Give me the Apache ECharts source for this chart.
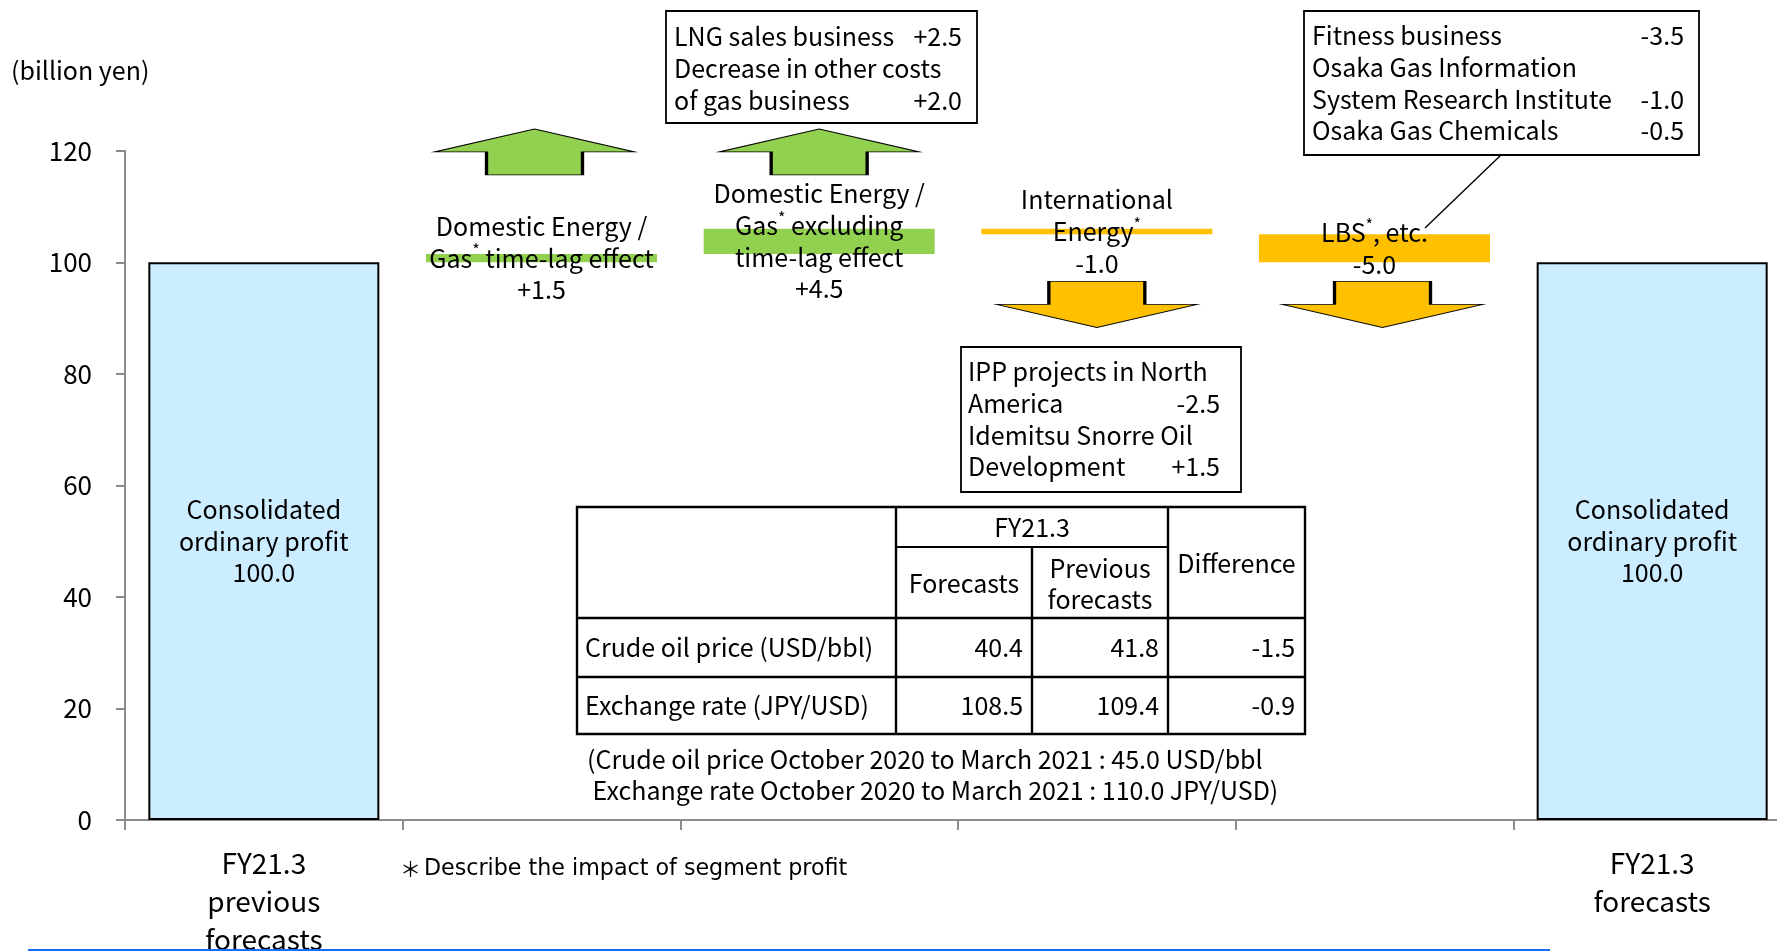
<!DOCTYPE html>
<html><head><meta charset="utf-8">
<script src="https://cdn.jsdelivr.net/npm/echarts@6/dist/echarts.min.js"></script>
<style>html,body{margin:0;padding:0;background:#fff;overflow:hidden}#c{width:1777px;height:951px}</style>
</head><body><div id="c"></div>
<script>
// ---------- data ----------
const categories = ['FY21.3\nprevious\nforecasts', 'Domestic Energy / Gas time-lag effect', 'Domestic Energy / Gas excluding time-lag effect', 'International Energy', 'LBS, etc.', 'FY21.3\nforecasts'];
const startTotal = 100.0;
const deltas = [1.5, 4.5, -1.0, -5.0];
const endTotal = 100.0;
const stepLabels = ['Domestic Energy /\nGas{sup|*} time-lag effect', 'Domestic Energy /\nGas{sup|*} excluding\ntime-lag effect', 'International\nEnergy{sup|*}', 'LBS{sup|*}, etc.'];
const totalLabel = 'Consolidated\nordinary profit';
const yMin = 0, yMax = 120, yInterval = 20;
const boxLNG = { left: ['LNG sales business', 'Decrease in other costs', 'of gas business'], right: ['+2.5', '', '+2.0'] };
const boxLBS = { left: ['Fitness business', 'Osaka Gas Information', 'System Research Institute', 'Osaka Gas Chemicals'], right: ['-3.5', '', '-1.0', '-0.5'] };
const boxIntl = { left: ['IPP projects in North', 'America', 'Idemitsu Snorre Oil', 'Development'], right: ['', '-2.5', '', '+1.5'] };
const tableHead = ['FY21.3', 'Forecasts', 'Previous\nforecasts', 'Difference'];
const tableRowNames = ['Crude oil price (USD/bbl)', 'Exchange rate (JPY/USD)'];
const forecastVals = ['40.4', '108.5'];
const prevForecastVals = ['41.8', '109.4'];
const differenceVals = ['-1.5', '-0.9'];
const tableNote = ['(Crude oil price October 2020 to March 2021 : 45.0 USD/bbl', ' Exchange rate October 2020 to March 2021 : 110.0 JPY/USD)'];
const footnoteMark = '\uFF0A';
const footnote = 'Describe the impact of segment profit';
const yAxisTitle = '(billion yen)';

// ---------- styles / layout ----------
const F = '"Noto Sans CJK JP", "Noto Sans", sans-serif';
const FS = 25;
const LH = 31.7;
const BLUE = '#CCECFF', GREEN = '#92D050', ORANGE = '#FFC000';
const arrowUpLevel = 119.77, arrowDownLevel = 92.44;
const upArrow = 'path://M100,0 L200,23 L148,23 L148,46 L52,46 L52,23 L0,23 Z';
const downArrow = 'path://M52,0 L148,0 L148,23 L200,23 L100,46 L0,23 L52,23 Z';

// waterfall helper series built from the deltas
const baseData = [0], barData = [];
let running = startTotal;
barData.push({ value: startTotal, itemStyle: { color: BLUE, borderColor: '#000', borderWidth: 2 } });
deltas.forEach(d => {
  let base;
  if (d >= 0) { base = running; running += d; } else { running += d; base = running; }
  baseData.push(base);
  barData.push({ value: Math.abs(d), itemStyle: { color: d >= 0 ? GREEN : ORANGE } });
});
baseData.push(0);
barData.push({ value: endTotal, itemStyle: { color: BLUE, borderColor: '#000', borderWidth: 2 } });

const arrowData = deltas.map((d, i) => ({
  value: [i + 1, d >= 0 ? arrowUpLevel : arrowDownLevel],
  symbol: d >= 0 ? upArrow : downArrow,
  symbolOffset: [[-7, 0], [0, 0], [0, 0], [8, 0]][i],
  itemStyle: { color: d >= 0 ? GREEN : ORANGE, borderColor: '#000', borderWidth: 1.6, opacity: 1 }
}));

function labelText(p) {
  const i = p.dataIndex;
  if (i === 0 || i === categories.length - 1) return totalLabel + '\n' + p.value.toFixed(1);
  const d = deltas[i - 1];
  return stepLabels[i - 1] + '\n' + (d >= 0 ? '+' : '-') + Math.abs(d).toFixed(1);
}

// ---------- annotation graphics ----------
const g = [];
function txt(x, y, text, opt) {
  g.push(Object.assign({ type: 'text', x: x, y: y, z: 100, style: Object.assign({ text: text, fill: '#000', fontSize: FS, fontFamily: F, lineHeight: LH, align: 'left', verticalAlign: 'middle' }, opt || {}) }));
}
function rect(x, y, w, h, lw) {
  g.push({ type: 'rect', z: 90, shape: { x: x, y: y, width: w, height: h }, style: { fill: '#fff', stroke: '#000', lineWidth: lw || 1.6 } });
}
function line(x1, y1, x2, y2, lw, color) {
  g.push({ type: 'line', z: 95, shape: { x1: x1, y1: y1, x2: x2, y2: y2 }, style: { stroke: color || '#000', lineWidth: lw || 2 } });
}
function box(b, x, y, w, h, textLeft, valRight, firstLineY) {
  rect(x, y, w, h, 1.8);
  txt(textLeft, firstLineY, b.left.join('\n'), { verticalAlign: 'top' });
  txt(valRight, firstLineY, b.right.join('\n'), { verticalAlign: 'top', align: 'right' });
}
box(boxLNG, 666, 11, 311, 112, 674, 962, 21);
box(boxLBS, 1304, 11, 395, 144, 1312, 1684, 20);
box(boxIntl, 961, 347, 280, 145, 968, 1220, 356);
line(1501, 155, 1425, 228, 1.4);

// table
const tx = [577, 896, 1032, 1168, 1305];
const ty = [507, 547, 618, 677, 734];
rect(tx[0], ty[0], tx[4] - tx[0], ty[4] - ty[0], 2.4);
line(tx[1], ty[1], tx[3], ty[1], 2);
line(tx[0], ty[2], tx[4], ty[2], 2.4);
line(tx[0], ty[3], tx[4], ty[3], 2.4);
line(tx[1], ty[0], tx[1], ty[4], 2.4);
line(tx[2], ty[1], tx[2], ty[4], 2.4);
line(tx[3], ty[0], tx[3], ty[4], 2.4);
txt((tx[1] + tx[3]) / 2, (ty[0] + ty[1]) / 2, tableHead[0], { align: 'center' });
txt((tx[1] + tx[2]) / 2, 583, tableHead[1], { align: 'center' });
txt((tx[2] + tx[3]) / 2, 584, tableHead[2], { align: 'center' });
txt((tx[3] + tx[4]) / 2, 563, tableHead[3], { align: 'center' });
tableRowNames.forEach((n, r) => {
  const cy = (ty[2 + r] + ty[3 + r]) / 2;
  txt(585, cy, n);
  txt(1023, cy, forecastVals[r], { align: 'right' });
  txt(1159, cy, prevForecastVals[r], { align: 'right' });
  txt(1295, cy, differenceVals[r], { align: 'right' });
});
txt(587, 759, tableNote[0]);
txt(587, 790, tableNote[1]);
txt(400, 869, '{a|' + footnoteMark + '}{b|' + footnote + '}', {
  rich: {
    a: { fontSize: 21, fontFamily: '"Noto Sans CJK JP", sans-serif', fill: '#000', padding: [0, 3, 0, 0] },
    b: { fontSize: 22.2, fontFamily: '"DejaVu Sans", sans-serif', fill: '#000' }
  }
});
txt(11, 70, yAxisTitle);
line(28, 950, 1550, 950, 2, '#1A6EF5');

// ---------- chart ----------
const chart = echarts.init(document.getElementById('c'));
chart.setOption({
  animation: false,
  backgroundColor: '#fff',
  grid: { left: 125, right: -14, top: 150.7, bottom: 131, containLabel: false, outerBoundsMode: 'none' },
  xAxis: {
    type: 'category', data: categories,
    axisLine: { lineStyle: { color: '#8c8c8c', width: 2 } },
    axisTick: { show: true, interval: 0, length: 10, lineStyle: { color: '#8c8c8c', width: 2 } },
    axisLabel: {
      interval: 0, margin: 24, color: '#000', fontSize: 28, lineHeight: 38, fontFamily: F,
      formatter: (v, i) => (i === 0 || i === categories.length - 1) ? v : ''
    }
  },
  yAxis: {
    type: 'value', min: yMin, max: yMax, interval: yInterval,
    axisLine: { show: true, lineStyle: { color: '#8c8c8c', width: 2 } },
    axisTick: { show: true, length: 9, lineStyle: { color: '#8c8c8c', width: 2 } },
    splitLine: { show: false },
    axisLabel: { color: '#000', fontSize: 26, fontFamily: F, margin: 33 }
  },
  series: [
    { type: 'bar', stack: 'w', data: baseData, barWidth: 231, itemStyle: { color: 'transparent' }, silent: true },
    {
      type: 'bar', stack: 'w', data: barData, barWidth: 231,
      label: {
        show: true, position: 'inside', color: '#000', fontSize: FS, lineHeight: LH, fontFamily: F,
        formatter: labelText,
        rich: { sup: { fontSize: 16, fontFamily: F, verticalAlign: 'top', lineHeight: 22, color: '#000' } }
      },
      labelLayout: { hideOverlap: false }
    },
    { type: 'scatter', data: arrowData, symbolSize: [200, 46], z: 5, itemStyle: { opacity: 1 } }
  ],
  graphic: g
});
</script></body></html>
